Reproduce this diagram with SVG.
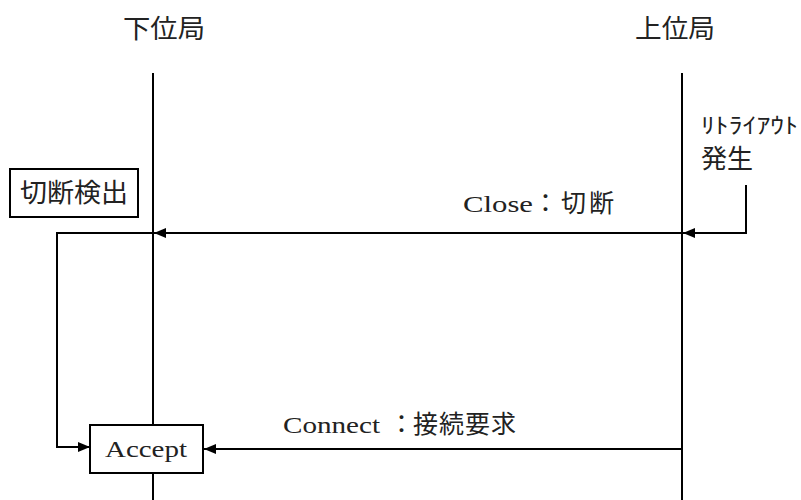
<svg xmlns="http://www.w3.org/2000/svg" width="801" height="500" viewBox="0 0 801 500">
<style>
.ln{stroke:#000;stroke-width:2;fill:none}
.bx{fill:#fff;stroke:#000;stroke-width:2}
.jp{font-family:"Noto Sans CJK JP","Noto Sans",sans-serif;fill:#222}
.ser{font-family:"Liberation Serif","Noto Sans CJK JP",serif;fill:#222}
</style>
<defs>
<marker id="ah" markerWidth="12" markerHeight="10" refX="12" refY="5" orient="auto" markerUnits="userSpaceOnUse">
<path d="M0,0 L12,5 L0,10 Z" fill="#000"/>
</marker>
</defs>
<rect width="801" height="500" fill="#fff"/>
<g id="lifelines">
<line class="ln" x1="153" y1="73" x2="153" y2="500"/>
<line class="ln" x1="682" y1="73" x2="682" y2="500"/>
</g>
<g id="label-lower"><text class="jp" x="123" y="38" font-size="26" textLength="82" lengthAdjust="spacingAndGlyphs">下位局</text></g>
<g id="label-upper"><text class="jp" x="635" y="38" font-size="26" textLength="80" lengthAdjust="spacingAndGlyphs">上位局</text></g>
<g id="connectors">
<polyline class="ln" points="746,185 746,233 683,233" marker-end="url(#ah)"/>
<line class="ln" x1="682" y1="233" x2="154" y2="233" marker-end="url(#ah)"/>
<polyline class="ln" points="153,233 57,233 57,447 90,447" marker-end="url(#ah)"/>
<line class="ln" x1="682" y1="449" x2="204" y2="449" marker-end="url(#ah)"/>
</g>
<g id="node-detect">
<rect class="bx" x="10" y="169" width="128" height="48"/>
<text class="jp" x="20" y="202" font-size="26" textLength="108" lengthAdjust="spacingAndGlyphs">切断検出</text>
</g>
<g id="node-accept">
<rect class="bx" x="90" y="425" width="113" height="48"/>
<text class="ser" x="105" y="457" font-size="23" textLength="82" lengthAdjust="spacingAndGlyphs">Accept</text>
</g>
<g id="retry">
<text class="jp" x="701" y="133" font-size="22" textLength="97" lengthAdjust="spacingAndGlyphs">ﾘﾄﾗｲｱｳﾄ</text>
<text class="jp" x="701" y="168" font-size="26" textLength="52" lengthAdjust="spacingAndGlyphs">発生</text>
</g>
<g id="msg-labels">
<text class="ser" font-size="23" y="212"><tspan x="463" textLength="70" lengthAdjust="spacingAndGlyphs">Close</tspan><tspan class="jp" font-size="25" x="533 561 589">：切断</tspan></text>
<text class="ser" font-size="23" y="433"><tspan x="283" textLength="97" lengthAdjust="spacingAndGlyphs">Connect</tspan><tspan class="jp" font-size="25" x="389 413 439 465 491">：接続要求</tspan></text>
</g>
</svg>
